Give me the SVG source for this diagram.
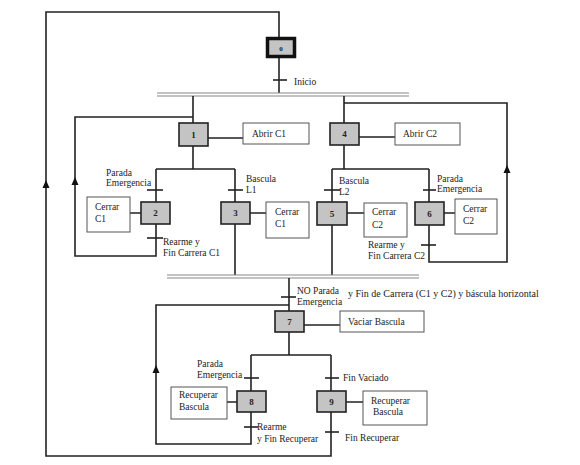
<svg xmlns="http://www.w3.org/2000/svg" xmlns:xlink="http://www.w3.org/1999/xlink" width="580" height="465" viewBox="0 0 580 465">
<style>
text{font-family:"Liberation Serif","Times New Roman",serif;font-size:9.5px;fill:#222}
.step{fill:#c4c4c4;stroke:#222;stroke-width:1.6}
.num{font-size:9px;font-weight:bold;text-anchor:middle}
.act{fill:#fff;stroke:#555;stroke-width:1}
.ln{fill:none;stroke:#222;stroke-width:1.6}
.tr{stroke:#222;stroke-width:1.6}
.bar{stroke:#888;stroke-width:1.1}
</style>
<defs>
<path id="arr" d="M0,-5 L3.5,3 L-3.5,3 Z" fill="#111"/>
</defs>
<rect width="580" height="465" fill="#fff"/>
<g id="connectors">
<path class="ln" d="M279,37 V12 H46 V456 H331 V412"/>
<path class="ln" d="M279,57 V93"/>
<line class="bar" x1="157" y1="93" x2="409" y2="93"/>
<line class="bar" x1="157" y1="96" x2="409" y2="96"/>
<path class="ln" d="M193,96 V123 M344,96 V123"/>
<path class="ln" d="M193,117 H75 V256 H156 V224"/>
<path class="ln" d="M193,146 V169 M156,169 H235 M156,169 V202 M235,169 V202"/>
<path class="ln" d="M235,224 V275"/>
<path class="ln" d="M208,138 H243 M130,213 H141 M250,213 H266"/>
<path class="ln" d="M344,103 H507 V262 H429 V225"/>
<path class="ln" d="M344,145 V169 M332,169 H429 M332,169 V202 M429,169 V202"/>
<path class="ln" d="M332,225 V275"/>
<path class="ln" d="M359,137 H395 M347,213 H364 M444,213 H455"/>
<line class="bar" x1="167" y1="275" x2="419" y2="275"/>
<line class="bar" x1="167" y1="278" x2="419" y2="278"/>
<path class="ln" d="M289,278 V311"/>
<path class="ln" d="M289,305 H156 V444 H251 V412"/>
<path class="ln" d="M304,325 H340"/>
<path class="ln" d="M289,332 V355 M251,355 H331 M251,355 V391 M331,355 V391"/>
<path class="ln" d="M227,402 H237 M346,402 H363"/>
<line class="tr" x1="273" y1="80" x2="287" y2="80"/>
<line class="tr" x1="147" y1="190" x2="163" y2="190"/>
<line class="tr" x1="228" y1="190" x2="243" y2="190"/>
<line class="tr" x1="147" y1="238" x2="163" y2="238"/>
<line class="tr" x1="324" y1="190" x2="340" y2="190"/>
<line class="tr" x1="423" y1="190" x2="436" y2="190"/>
<line class="tr" x1="421" y1="245" x2="436" y2="245"/>
<line class="tr" x1="281" y1="297" x2="296" y2="297"/>
<line class="tr" x1="244" y1="378" x2="259" y2="378"/>
<line class="tr" x1="325" y1="378" x2="339" y2="378"/>
<line class="tr" x1="244" y1="427" x2="258" y2="427"/>
<line class="tr" x1="325" y1="432" x2="339" y2="432"/>
<use xlink:href="#arr" x="46" y="185"/>
<use xlink:href="#arr" x="75" y="182"/>
<use xlink:href="#arr" x="507" y="170"/>
<use xlink:href="#arr" x="156" y="370"/>
<text x="294" y="85">Inicio</text>
<text x="106" y="176">Parada</text>
<text x="106" y="186">Emergencia</text>
<text x="246" y="182">Bascula</text>
<text x="246" y="193">L1</text>
<text x="163" y="245">Rearme y</text>
<text x="163" y="256">Fin Carrera C1</text>
<text x="339" y="184">Bascula</text>
<text x="339" y="195">L2</text>
<text x="437" y="182">Parada</text>
<text x="437" y="192">Emergencia</text>
<text x="368" y="248">Rearme y</text>
<text x="368" y="259">Fin Carrera C2</text>
<text x="297" y="294">NO Parada</text>
<text x="297" y="305">Emergencia</text>
<text x="348" y="297" style="font-size:10px">y Fin de Carrera (C1 y C2) y báscula horizontal</text>
<text x="197" y="367">Parada</text>
<text x="197" y="378">Emergencia</text>
<text x="343" y="381">Fin Vaciado</text>
<text x="257" y="430">Rearme</text>
<text x="257" y="442">y Fin Recuperar</text>
<text x="345" y="441">Fin Recuperar</text>
</g>
<g id="n0">
<rect x="267.5" y="38.5" width="27" height="18" fill="#c4c4c4" stroke="#111" stroke-width="3.5"/>
<text class="num" x="281" y="50.5" style="font-size:7px">0</text>
</g>
<g id="n1"><rect class="step" x="179" y="123" width="29" height="23"/><text class="num" x="193.5" y="137.5">1</text></g>
<g id="n2"><rect class="step" x="141" y="202" width="29" height="22"/><text class="num" x="155.5" y="216">2</text></g>
<g id="n3"><rect class="step" x="221" y="202" width="29" height="22"/><text class="num" x="235.5" y="216">3</text></g>
<g id="n4"><rect class="step" x="330" y="123" width="29" height="22"/><text class="num" x="344.5" y="137">4</text></g>
<g id="n5"><rect class="step" x="317" y="202" width="30" height="23"/><text class="num" x="332" y="216.5">5</text></g>
<g id="n6"><rect class="step" x="415" y="202" width="29" height="23"/><text class="num" x="429.5" y="216.5">6</text></g>
<g id="n7"><rect class="step" x="275" y="311" width="29" height="21"/><text class="num" x="289.5" y="324.5">7</text></g>
<g id="n8"><rect class="step" x="237" y="391" width="29" height="21"/><text class="num" x="251.5" y="404.5">8</text></g>
<g id="n9"><rect class="step" x="317" y="391" width="29" height="21"/><text class="num" x="331.5" y="404.5">9</text></g>
<g id="a1"><rect class="act" x="243" y="123" width="66" height="21"/><text x="252" y="137">Abrir C1</text></g>
<g id="a2"><rect class="act" x="87" y="197" width="43" height="35"/><text x="95" y="210">Cerrar</text><text x="95" y="222">C1</text></g>
<g id="a3"><rect class="act" x="266" y="202" width="43" height="36"/><text x="275" y="215">Cerrar</text><text x="275" y="227">C1</text></g>
<g id="a4"><rect class="act" x="395" y="123" width="65" height="22"/><text x="403" y="137">Abrir C2</text></g>
<g id="a5"><rect class="act" x="364" y="203" width="43" height="34"/><text x="372" y="215">Cerrar</text><text x="372" y="228">C2</text></g>
<g id="a6"><rect class="act" x="455" y="199" width="42" height="35"/><text x="463" y="212">Cerrar</text><text x="463" y="224">C2</text></g>
<g id="a7"><rect class="act" x="340" y="311" width="84" height="21"/><text x="348" y="325">Vaciar Bascula</text></g>
<g id="a8"><rect class="act" x="171" y="387" width="56" height="32"/><text x="179" y="398">Recuperar</text><text x="179" y="410">Bascula</text></g>
<g id="a9"><rect class="act" x="363" y="391" width="64" height="34"/><text x="371" y="404">Recuperar</text><text x="373" y="415">Bascula</text></g>
</svg>
